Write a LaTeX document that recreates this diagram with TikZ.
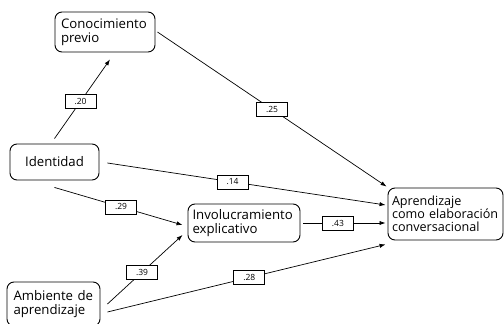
\documentclass[tikz,border=0pt]{standalone}
\usepackage{fontspec}
\setmainfont{Open Sans}
\usetikzlibrary{arrows.meta,calc}
\tikzset{
  box/.style={draw, line width=0.9pt, rounded corners=7pt, align=left, inner xsep=0pt, inner ysep=0pt,
    font=\fontsize{13.2pt}{13.5pt}\selectfont},
  lab/.style={draw, fill=white, line width=0.6pt, minimum width=31pt, minimum height=14pt, inner sep=0pt,
    font=\fontsize{8.5pt}{9pt}\selectfont},
  arr/.style={line width=0.7pt, -{Latex[length=6pt,width=4.2pt]}}
}
\begin{document}
\begin{tikzpicture}[x=1pt,y=-1pt]
\useasboundingbox (0,0) rectangle (504,324);
\node[box, minimum width=100pt, minimum height=40pt, text width=88pt] (cono) at (105,32) {Conocimiento\\previo};
\node[box, minimum width=89pt, minimum height=36pt, align=center] (ident) at (54.5,162) {Identidad};
\node[box, minimum width=112pt, minimum height=38pt, text width=103pt] (inv) at (244,223) {Involucramiento\\explicativo};
\node[box, minimum width=115pt, minimum height=52pt, text width=107pt, font=\fontsize{12.6pt}{13pt}\selectfont] (apr) at (445.5,214) {Aprendizaje\\como elaboración\\conversacional};
\node[box, minimum width=93pt, minimum height=44pt, text width=80pt] (amb) at (53.5,304) {Ambiente de\\aprendizaje};
\coordinate (t43) at (apr.west |- inv.east);

\draw[arr] ([yshift=5pt]ident.north) -- node[lab,pos=0.47]{.20} ([xshift=5pt,yshift=-7pt]cono.south);
\draw[arr] ([xshift=2pt]cono.east) -- node[lab,pos=0.5]{.25} ([xshift=-1pt,yshift=1pt]apr.north west);
\draw[arr] ([xshift=8pt,yshift=-1pt]ident.east) -- node[lab,pos=0.45]{.14} ([xshift=-2pt,yshift=9pt]apr.west);
\draw[arr] ([yshift=-7pt]ident.south) -- node[lab,pos=0.52]{.29} ([xshift=-5pt,yshift=-2pt]inv.west);
\draw[arr] ([xshift=7pt]amb.east) -- node[lab,pos=0.46]{.39} ([xshift=-5pt,yshift=-12pt]inv.west);
\draw[arr] ([xshift=7pt,yshift=-8pt]amb.east) -- node[lab,pos=0.51]{.28} ([xshift=-2pt,yshift=-4pt]apr.south west);
\draw[arr] ([xshift=3pt]inv.east) -- node[lab,pos=0.42]{.43} ([xshift=-2pt]t43);
\end{tikzpicture}
\end{document}
